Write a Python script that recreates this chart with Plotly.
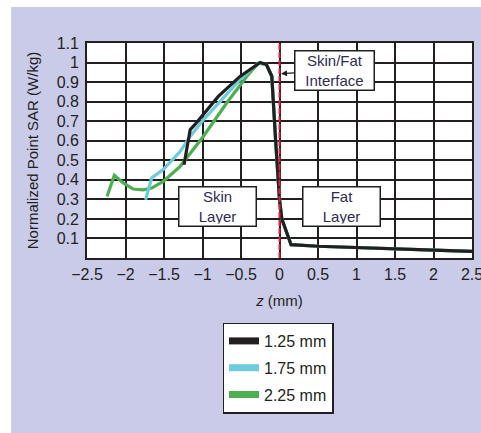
import plotly.graph_objects as go

# ---- data ----
tail_x = [-0.17, -0.10, -0.05, 0.0, 0.03, 0.15, 0.5, 1.0, 1.5, 2.0, 2.5]
tail_y = [0.99, 0.93, 0.60, 0.30, 0.20, 0.068, 0.06, 0.052, 0.045, 0.04, 0.034]

black_x = [-1.24, -1.16, -1.10, -0.795, -0.513, -0.25] + tail_x
black_y = [0.477, 0.656, 0.682, 0.827, 0.929, 1.0] + tail_y

cyan_x = [-1.74, -1.66, -1.51, -1.29, -1.16, -0.99, -0.513, -0.275] + tail_x
cyan_y = [0.298, 0.409, 0.452, 0.545, 0.622, 0.707, 0.913, 0.997] + tail_y

green_x = [-2.24, -2.145, -2.03, -1.90, -1.77, -1.66, -1.51, -1.29, -0.99, -0.686, -0.426, -0.275] + tail_x
green_y = [0.315, 0.423, 0.384, 0.353, 0.349, 0.358, 0.392, 0.469, 0.622, 0.793, 0.929, 0.997] + tail_y

series_names = ["1.25 mm", "1.75 mm", "2.25 mm"]
series_colors = ["#231f20", "#6ccbdc", "#4cb050"]

x_ticks = [-2.5, -2, -1.5, -1, -0.5, 0, 0.5, 1, 1.5, 2, 2.5]
x_ticktext = ["\u22122.5", "\u22122", "\u22121.5", "\u22121", "\u22120.5", "0", "0.5", "1", "1.5", "2", "2.5"]
y_ticks = [0.1, 0.2, 0.3, 0.4, 0.5, 0.6, 0.7, 0.8, 0.9, 1.0, 1.1]
y_ticktext = ["0.1", "0.2", "0.3", "0.4", "0.5", "0.6", "0.7", "0.8", "0.9", "1", "1.1"]

FONT = "Arial, Liberation Sans, Helvetica, sans-serif"
TXT = "#231f20"
LAV = "#c9cbe8"

fig = go.Figure()

# data traces (drawn green, cyan, black so black is on top)
for xs, ys, name, col in [(green_x, green_y, series_names[2], series_colors[2]),
                          (cyan_x, cyan_y, series_names[1], series_colors[1]),
                          (black_x, black_y, series_names[0], series_colors[0])]:
    fig.add_trace(go.Scatter(x=xs, y=ys, mode="lines", name=name, showlegend=False,
                             legendgroup=name, line=dict(color=col, width=3.2)))

# interface line
fig.add_trace(go.Scatter(x=[0, 0], y=[0, 1.1], mode="lines", showlegend=False,
                         line=dict(color="#e8202a", width=2, dash="6px,2px")))

# legend entries with thick swatches
for name, col in zip(series_names, series_colors):
    fig.add_trace(go.Scatter(x=[None], y=[None], mode="lines", name=name,
                             legendgroup=name, line=dict(color=col, width=7)))

fig.update_layout(
    width=481, height=433,
    margin=dict(l=87, r=9, t=43, b=175, autoexpand=False),
    paper_bgcolor="white",
    plot_bgcolor="white",
    font=dict(family=FONT, size=16, color=TXT),
    showlegend=True,
    legend=dict(x=0.352, y=-0.30, xanchor="left", yanchor="top",
                bgcolor="white", bordercolor=TXT, borderwidth=1.5,
                font=dict(size=16, color=TXT), itemwidth=30,
                tracegroupgap=3, traceorder="grouped"),
    shapes=[
        dict(type="rect", xref="paper", yref="paper", x0=-0.197, x1=1.03, y0=-0.83, y1=1.167,
             fillcolor=LAV, line=dict(width=0), layer="below"),
        dict(type="rect", xref="paper", yref="paper", x0=0, x1=1, y0=0, y1=1,
             fillcolor="white", line=dict(width=0), layer="below"),
    ],
)

fig.update_xaxes(range=[-2.5, 2.5], tickvals=x_ticks, ticktext=x_ticktext,
                 showgrid=True, gridcolor=TXT, gridwidth=1.6, zeroline=False,
                 showline=True, linecolor=TXT, linewidth=1.8, mirror=True,
                 automargin=False, ticklabeloverflow="allow",
                 ticks="", tickfont=dict(size=16, color=TXT), ticklabelstandoff=1,
                 title=dict(text="<i>z</i> (mm)", font=dict(size=15, color=TXT), standoff=13))
fig.update_yaxes(range=[0, 1.1], tickvals=y_ticks, ticktext=y_ticktext,
                 showgrid=True, gridcolor=TXT, gridwidth=1.6, zeroline=False,
                 showline=True, linecolor=TXT, linewidth=1.8, mirror=True,
                 automargin=False,
                 ticks="", tickfont=dict(size=16, color=TXT), ticklabelstandoff=3,
                 title=dict(text="Normalized Point SAR (W/kg)", font=dict(size=15, color=TXT), standoff=14))

ann_style = dict(bgcolor="white", bordercolor=TXT, borderwidth=1.5, borderpad=2,
                 font=dict(family=FONT, size=15, color="#2e2c55"))
fig.add_annotation(x=-0.80, y=0.265, text="Skin<br>Layer", showarrow=False,
                   width=72, height=34, **ann_style)
fig.add_annotation(x=0.805, y=0.265, text="Fat<br>Layer", showarrow=False,
                   width=72, height=34, **ann_style)
fig.add_annotation(x=0.02, y=0.943, text="Skin/Fat<br>Interface", showarrow=True,
                   arrowhead=2, arrowsize=1, arrowwidth=1.2, arrowcolor=TXT,
                   ax=53, ay=-3, axref="pixel", ayref="pixel",
                   width=74, height=34, **ann_style)

fig.write_html("out.html", config={"displayModeBar": False},
               post_script="document.body.style.margin='0';document.body.style.overflow='hidden';")
